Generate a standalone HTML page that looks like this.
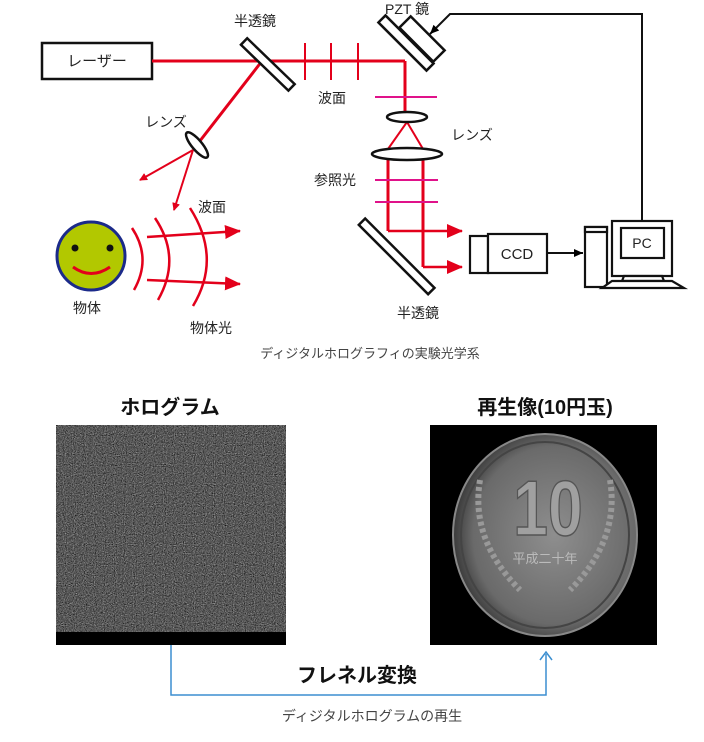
<!DOCTYPE html><html><head><meta charset="utf-8"><style>body{margin:0;background:#fff;width:704px;height:737px;overflow:hidden}</style></head><body>
<svg width="704" height="737" viewBox="0 0 704 737" xmlns="http://www.w3.org/2000/svg" font-family="Liberation Sans, Noto Sans CJK JP, sans-serif">
<defs>
<marker id="ar" markerWidth="8" markerHeight="8" refX="7" refY="4" orient="auto" markerUnits="userSpaceOnUse"><path d="M0,0 L8,4 L0,8 z" fill="#e3001b"/></marker>
<marker id="ab" markerWidth="10" markerHeight="10" refX="9" refY="5" orient="auto" markerUnits="userSpaceOnUse"><path d="M0,1 L9,5 L0,9 z" fill="#000"/></marker>
<marker id="big" markerWidth="16" markerHeight="14" refX="15" refY="7" orient="auto" markerUnits="userSpaceOnUse"><path d="M0,0 L16,7 L0,14 z" fill="#e3001b"/></marker>
<filter id="noise" x="0" y="0" width="100%" height="100%" color-interpolation-filters="sRGB"><feTurbulence type="fractalNoise" baseFrequency="0.9" numOctaves="2" seed="3"/><feColorMatrix type="matrix" values="0.33 0.33 0.33 0 0  0.33 0.33 0.33 0 0  0.33 0.33 0.33 0 0  0 0 0 0 1"/><feComponentTransfer><feFuncR type="linear" slope="1.3" intercept="-0.3"/><feFuncG type="linear" slope="1.3" intercept="-0.3"/><feFuncB type="linear" slope="1.3" intercept="-0.3"/></feComponentTransfer></filter>
<radialGradient id="coin" cx="0.55" cy="0.5" r="0.55"><stop offset="0" stop-color="#8e8e8e"/><stop offset="0.8" stop-color="#6a6a6a"/><stop offset="1" stop-color="#3a3a3a"/></radialGradient>
</defs>
<g font-size="14" fill="#222">
<rect x="42" y="43" width="110" height="36" fill="#fff" stroke="#111" stroke-width="2.5"/>
<text x="97" y="66" text-anchor="middle" font-size="15">レーザー</text>
<g stroke="#e3001b" stroke-width="3" fill="none">
<line x1="152" y1="61" x2="405" y2="61"/>
<line x1="405" y1="61" x2="405" y2="114"/>
<line x1="262" y1="61" x2="196" y2="146"/>
<line x1="388" y1="159" x2="388" y2="231"/><line x1="423" y1="159" x2="423" y2="267"/>
</g>
<g stroke="#e3001b" stroke-width="2" fill="none">
<line x1="305" y1="43" x2="305" y2="80"/><line x1="331" y1="43" x2="331" y2="80"/><line x1="358" y1="43" x2="358" y2="80"/>
<line x1="407" y1="122" x2="388" y2="149"/><line x1="407" y1="122" x2="423" y2="149"/>
<line x1="193" y1="150" x2="140" y2="180" marker-end="url(#ar)"/>
<line x1="193" y1="150" x2="174" y2="210" marker-end="url(#ar)"/>
<line x1="388" y1="231" x2="462" y2="231" stroke-width="2.5" marker-end="url(#big)"/>
<line x1="423" y1="267" x2="462" y2="267" stroke-width="2.5" marker-end="url(#big)"/>
<line x1="147" y1="237" x2="240" y2="231" stroke-width="2.5" marker-end="url(#big)"/>
<line x1="147" y1="280" x2="240" y2="284" stroke-width="2.5" marker-end="url(#big)"/>
<path d="M132,228 Q152,258 134,290" stroke-width="2.5"/>
<path d="M155,218 Q182,258 158,300" stroke-width="2.5"/>
<path d="M190,208 Q222,258 193,306" stroke-width="2.5"/>
</g>
<g stroke="#e0128a" stroke-width="2"><line x1="375" y1="97" x2="437" y2="97"/><line x1="375" y1="180" x2="438" y2="180"/><line x1="375" y1="202" x2="438" y2="202"/></g>
<rect x="236" y="58" width="66" height="9" transform="rotate(44 266 62)" fill="#fff" stroke="#111" stroke-width="2.5"/>
<rect x="372" y="38" width="68" height="10" transform="rotate(45 406 43)" fill="#fff" stroke="#111" stroke-width="2.5"/>
<rect x="398" y="31" width="48" height="16" transform="rotate(45 422 39)" fill="#fff" stroke="#111" stroke-width="2.5"/>
<rect x="348" y="252" width="98" height="9" transform="rotate(45 397 256)" fill="#fff" stroke="#111" stroke-width="2.5"/>
<ellipse cx="407" cy="117" rx="20" ry="5" fill="#fff" stroke="#111" stroke-width="2.5"/>
<ellipse cx="407" cy="154" rx="35" ry="6" fill="#fff" stroke="#111" stroke-width="2.5"/>
<ellipse cx="197" cy="145" rx="16" ry="5" transform="rotate(50 197 145)" fill="#fff" stroke="#111" stroke-width="2.5"/>
<circle cx="91" cy="256" r="34" fill="#b2c800" stroke="#1b2a8a" stroke-width="3"/>
<circle cx="75" cy="248" r="3.5" fill="#111"/><circle cx="110" cy="248" r="3.5" fill="#111"/>
<path d="M73,267 Q91,280 110,267" stroke="#e3001b" stroke-width="3" fill="none"/>
<g fill="#fff" stroke="#111" stroke-width="2.2">
<rect x="470" y="236" width="18" height="37"/><rect x="488" y="234" width="59" height="39"/>
<rect x="585" y="227" width="22" height="60"/><rect x="585" y="227" width="22" height="5"/>
<rect x="612" y="221" width="60" height="55"/><rect x="621" y="228" width="43" height="30"/>
<path d="M624,276 L662,276 L664,281 L622,281 z"/><path d="M612,281 L672,281 L684,288 L602,288 z"/>
</g>
<text x="517" y="259" text-anchor="middle" font-size="15">CCD</text>
<text x="642" y="248" text-anchor="middle" font-size="14">PC</text>
<g stroke="#111" stroke-width="2" fill="none">
<line x1="547" y1="253" x2="583" y2="253" marker-end="url(#ab)"/>
<polyline points="642,221 642,14 450,14 430,34" marker-end="url(#ab)"/>
</g>
<text x="255" y="26" text-anchor="middle">半透鏡</text>
<text x="385" y="14">PZT 鏡</text>
<text x="332" y="103" text-anchor="middle">波面</text>
<text x="166" y="127" text-anchor="middle">レンズ</text>
<text x="472" y="140" text-anchor="middle">レンズ</text>
<text x="335" y="185" text-anchor="middle">参照光</text>
<text x="212" y="212" text-anchor="middle">波面</text>
<text x="87" y="313" text-anchor="middle">物体</text>
<text x="211" y="333" text-anchor="middle">物体光</text>
<text x="418" y="318" text-anchor="middle">半透鏡</text>
<text x="370" y="358" text-anchor="middle" font-size="13" fill="#444">ディジタルホログラフィの実験光学系</text>
</g>
<text x="170" y="414" text-anchor="middle" font-size="20" font-weight="bold" fill="#111">ホログラム</text>
<text x="545" y="414" text-anchor="middle" font-size="20" font-weight="bold" fill="#111">再生像(10円玉)</text>
<rect x="56" y="425" width="230" height="220" fill="#555"/>
<rect x="56" y="425" width="230" height="208" filter="url(#noise)"/>
<rect x="56" y="632" width="230" height="13" fill="#000"/>
<rect x="430" y="425" width="227" height="220" fill="#000"/>
<ellipse cx="545" cy="535" rx="92" ry="101" fill="url(#coin)" stroke="#888" stroke-width="2"/>
<ellipse cx="545" cy="535" rx="84" ry="93" fill="none" stroke="#444" stroke-width="2"/>
<text x="548" y="535" text-anchor="middle" font-size="78" font-weight="bold" fill="#a0a0a0" stroke="#555" stroke-width="1.5" transform="scale(0.8 1)" style="transform-origin:548px 535px">10</text>
<text x="545" y="563" text-anchor="middle" font-size="13" fill="#bbb">平成二十年</text>
<path d="M480,480 Q470,540 520,590 M610,480 Q620,540 570,590" stroke="#999" stroke-width="6" fill="none" stroke-dasharray="4 3"/>
<polyline points="171,645 171,695 546,695 546,654" fill="none" stroke="#3b8ed0" stroke-width="1.5"/>
<path d="M540,660 L546,652 L552,660" fill="none" stroke="#3b8ed0" stroke-width="1.5"/>
<text x="357" y="682" text-anchor="middle" font-size="20" font-weight="bold" fill="#111">フレネル変換</text>
<text x="372" y="721" text-anchor="middle" font-size="14" fill="#444">ディジタルホログラムの再生</text>
</svg>
</body></html>
